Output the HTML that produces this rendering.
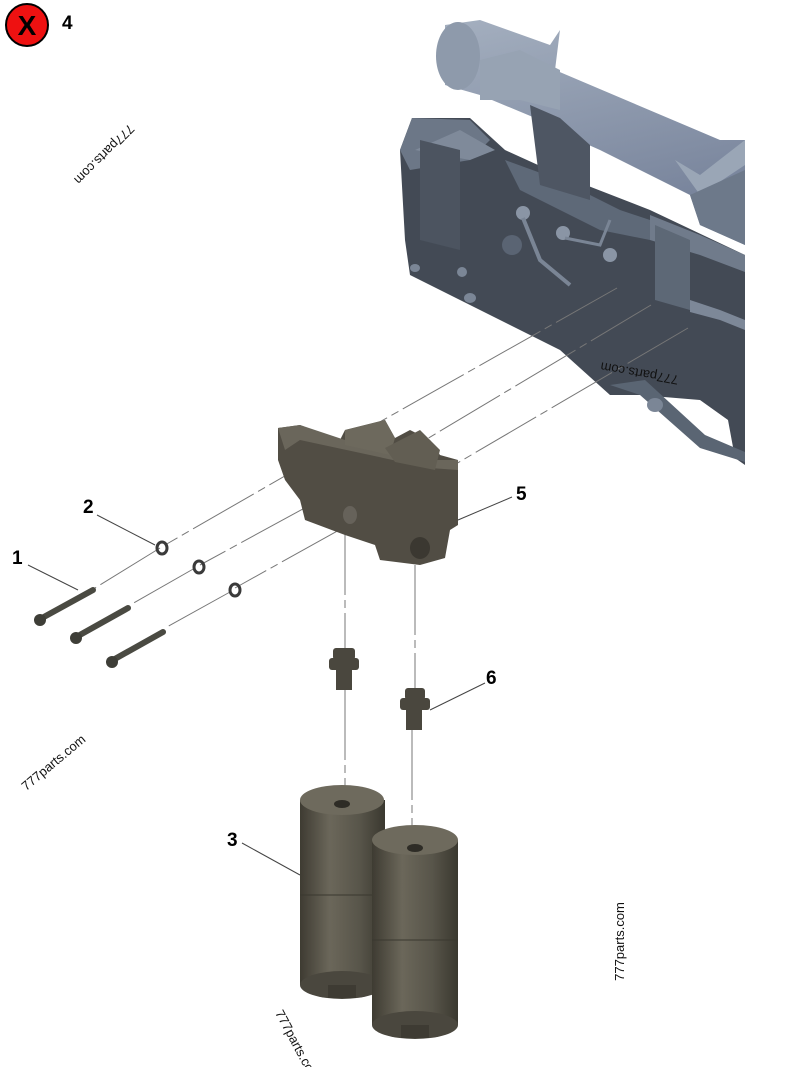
<!DOCTYPE html>
<html><head><meta charset="utf-8"><style>
html,body{margin:0;padding:0;background:#fff}
#c{position:relative;width:800px;height:1067px;overflow:hidden;font-family:"Liberation Sans",sans-serif}
.wm{position:absolute;font-size:13px;color:#111;white-space:nowrap;transform-origin:center}
.lb{position:absolute;font-weight:bold;font-size:19px;color:#000}
</style></head><body><div id="c">
<svg width="800" height="1067" style="position:absolute;left:0;top:0">
<defs>
<linearGradient id="tube" x1="0" y1="0" x2="0.3" y2="1"><stop offset="0" stop-color="#a4afbf"/><stop offset="1" stop-color="#76829a"/></linearGradient>
<linearGradient id="fil" x1="0" y1="0" x2="1" y2="0"><stop offset="0" stop-color="#3e3b32"/><stop offset="0.35" stop-color="#6b675a"/><stop offset="0.7" stop-color="#58554a"/><stop offset="1" stop-color="#3a382f"/></linearGradient>
</defs>
<circle cx="27" cy="25" r="21" fill="#ee1111" stroke="#000" stroke-width="2"/>
<text x="27" y="35" text-anchor="middle" font-family="Liberation Sans" font-weight="bold" font-size="28">X</text>
<!-- engine block -->
<polygon points="400,150 412,118 470,118 505,150 560,175 650,210 745,255 745,465 735,458 728,420 700,400 640,395 610,395 560,350 470,305 410,275 405,240" fill="#434a55"/>
<polygon points="400,150 412,118 470,120 490,140 470,160 410,170" fill="#6c7787"/>
<polygon points="505,160 560,180 620,210 650,220 650,240 600,230 520,190" fill="#5e6978"/>
<polygon points="650,215 700,235 745,255 745,272 700,255 650,240" fill="#707b8b"/>
<polygon points="655,225 690,240 690,310 655,300" fill="#5d6876"/>
<polygon points="690,300 720,310 745,320 745,330 720,320 690,312" fill="#7d8898"/>
<polygon points="610,385 640,395 700,448 745,462 745,452 705,435 645,380" fill="#5a6573"/>
<polygon points="415,150 460,130 495,150 470,160" fill="#7f8a9a"/>
<polygon points="420,140 460,150 460,250 420,240" fill="#4c5460"/>
<!-- tube -->
<polygon points="445,25 480,20 550,45 560,30 555,70 720,140 745,140 745,245 700,225 690,195 600,150 555,130 540,120 480,95 445,85" fill="url(#tube)"/>
<ellipse cx="458" cy="56" rx="22" ry="34" fill="#8e9aab"/>
<polygon points="480,60 520,50 560,70 560,110 520,100 480,100" fill="#97a3b3"/>
<polygon points="530,105 560,118 590,145 590,200 540,185" fill="#4e5663"/>
<polygon points="675,160 700,175 745,140 745,165 700,195" fill="#9aa6b6"/>
<polygon points="690,195 745,170 745,245 700,225" fill="#6d798a"/>
<circle cx="523" cy="213" r="7" fill="#8a95a5"/><circle cx="563" cy="233" r="7" fill="#8a95a5"/><circle cx="610" cy="255" r="7" fill="#8a95a5"/>
<path d="M523,218 L540,260 L570,285" stroke="#7a8595" stroke-width="4" fill="none"/>
<path d="M565,238 L600,245 L610,220" stroke="#7a8595" stroke-width="3" fill="none"/>
<circle cx="512" cy="245" r="10" fill="#5a6473"/>
<g fill="#7b8696"><ellipse cx="415" cy="268" rx="5" ry="4"/><ellipse cx="470" cy="298" rx="6" ry="5"/><ellipse cx="655" cy="405" rx="8" ry="7"/><ellipse cx="462" cy="272" rx="5" ry="5"/></g>
<g stroke="#777" stroke-width="1" stroke-dasharray="70,5,8,5" fill="none">
<line x1="617" y1="288" x2="330" y2="450"/>
<line x1="651" y1="305" x2="380" y2="467"/>
<line x1="688" y1="328" x2="420" y2="485"/>
<line x1="330" y1="450" x2="165" y2="545"/>
<line x1="380" y1="467" x2="200" y2="565"/>
<line x1="420" y1="485" x2="235" y2="588"/>
<line x1="160" y1="548" x2="95" y2="588"/>
<line x1="195" y1="568" x2="130" y2="605"/>
<line x1="230" y1="592" x2="165" y2="628"/>
<line x1="345" y1="525" x2="345" y2="650"/>
<line x1="345" y1="690" x2="345" y2="800"/>
<line x1="415" y1="565" x2="415" y2="690"/>
<line x1="412" y1="730" x2="412" y2="840"/>
</g>
<!-- filter head -->
<polygon points="278,428 300,425 340,440 345,430 385,420 395,438 410,430 430,440 440,455 458,460 458,525 450,530 445,558 420,565 380,560 375,545 345,535 305,520 300,500 285,480 278,460" fill="#514d44"/>
<polygon points="278,428 300,425 345,440 390,450 430,460 458,460 458,470 430,468 300,440 285,450" fill="#6a665b"/>
<polygon points="345,430 385,420 395,438 390,455 345,445" fill="#6d695d"/>
<polygon points="385,448 420,430 440,450 435,470 395,462" fill="#625e53"/>
<ellipse cx="420" cy="548" rx="10" ry="11" fill="#3b3831"/>
<ellipse cx="350" cy="515" rx="7" ry="9" fill="#66625a"/>
<g fill="none" stroke="#3a3a3a" stroke-width="3"><ellipse cx="162" cy="548" rx="5" ry="6"/><ellipse cx="199" cy="567" rx="5" ry="6"/><ellipse cx="235" cy="590" rx="5" ry="6"/></g>
<g stroke="#4a4a42" stroke-width="6" stroke-linecap="round"><line x1="42" y1="618" x2="93" y2="590"/><line x1="78" y1="636" x2="128" y2="608"/><line x1="113" y1="660" x2="163" y2="632"/></g>
<g fill="#3e3e37"><circle cx="40" cy="620" r="6"/><circle cx="76" cy="638" r="6"/><circle cx="112" cy="662" r="6"/></g>
<g fill="#4a473e"><rect x="333" y="648" width="22" height="12" rx="3"/><rect x="329" y="658" width="30" height="12" rx="3"/><rect x="336" y="670" width="16" height="20"/>
<rect x="405" y="688" width="20" height="12" rx="3"/><rect x="400" y="698" width="30" height="12" rx="3"/><rect x="406" y="710" width="16" height="20"/></g>
<rect x="300" y="800" width="85" height="185" fill="url(#fil)"/>
<ellipse cx="342" cy="800" rx="42" ry="15" fill="#6e6a5d"/><ellipse cx="342" cy="804" rx="8" ry="4" fill="#2e2c26"/>
<ellipse cx="342" cy="985" rx="42" ry="14" fill="#4a473e"/><rect x="328" y="985" width="28" height="13" fill="#3e3b33"/>
<line x1="300" y1="895" x2="385" y2="895" stroke="#3a382f"/>
<rect x="372" y="840" width="86" height="185" fill="url(#fil)"/>
<ellipse cx="415" cy="840" rx="43" ry="15" fill="#6e6a5d"/><ellipse cx="415" cy="848" rx="8" ry="4" fill="#2e2c26"/>
<ellipse cx="415" cy="1025" rx="43" ry="14" fill="#4a473e"/><rect x="401" y="1025" width="28" height="13" fill="#3e3b33"/>
<line x1="372" y1="940" x2="458" y2="940" stroke="#3a382f"/>
<g stroke="#444" stroke-width="1"><line x1="28" y1="565" x2="78" y2="590"/><line x1="97" y1="515" x2="155" y2="545"/><line x1="242" y1="843" x2="300" y2="875"/><line x1="512" y1="497" x2="458" y2="520"/><line x1="485" y1="683" x2="430" y2="710"/></g>
</svg>
<div class="lb" style="left:62px;top:13px">4</div>
<div class="lb" style="left:12px;top:548px">1</div>
<div class="lb" style="left:83px;top:497px">2</div>
<div class="lb" style="left:227px;top:830px">3</div>
<div class="lb" style="left:516px;top:484px">5</div>
<div class="lb" style="left:486px;top:668px">6</div>
<div class="wm" style="left:65px;top:147px;transform:rotate(135deg)">777parts.com</div>
<div class="wm" style="left:600px;top:366px;transform:rotate(190deg)">777parts.com</div>
<div class="wm" style="left:14px;top:755px;transform:rotate(-40deg)">777parts.com</div>
<div class="wm" style="left:580px;top:934px;transform:rotate(-90deg)">777parts.com</div>
<div class="wm" style="left:258px;top:1038px;transform:rotate(62deg)">777parts.com</div>
</div></body></html>
